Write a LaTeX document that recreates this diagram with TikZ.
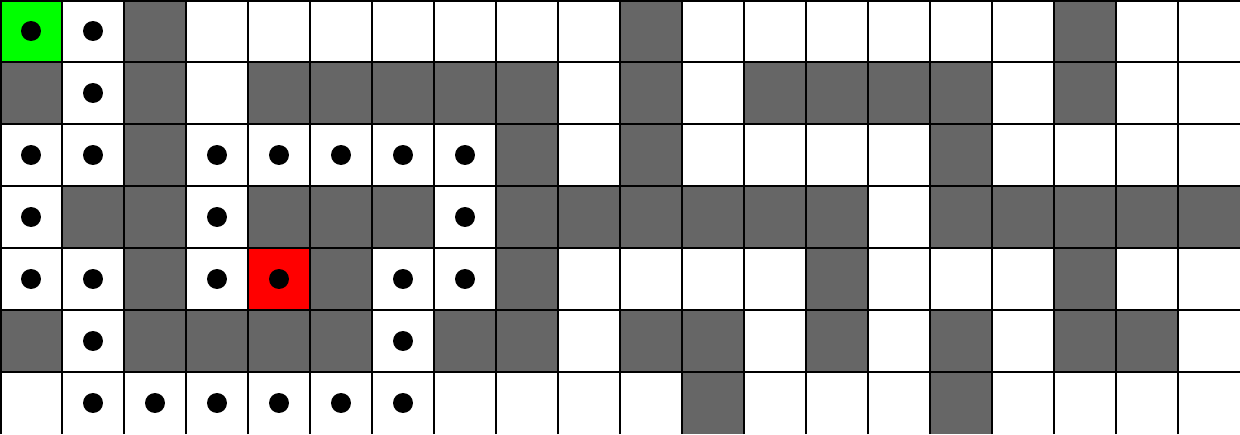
\documentclass[tikz,border=0pt]{standalone}
\usepackage{xcolor}
\definecolor{mzwall}{HTML}{666666}
\definecolor{mzstart}{HTML}{00FF00}
\definecolor{mzgoal}{HTML}{FF0000}
\usetikzlibrary{calc}
\tikzset{
  mzwall/.style={fill=mzwall},
  mzgrid/.style={draw=black,line width=0.8pt},
  mzdot/.style={fill=black},
}
\begin{document}
\begin{tikzpicture}[x=1cm,y=1cm]
\useasboundingbox (0,0) rectangle (20,7);
 % maze cells, (column,row) counted from the top left
\foreach \c/\r in {2/0,10/0,17/0,
  0/1,2/1,4/1,5/1,6/1,7/1,8/1,10/1,12/1,13/1,14/1,15/1,17/1,
  2/2,8/2,10/2,15/2,
  1/3,2/3,4/3,5/3,6/3,8/3,9/3,10/3,11/3,12/3,13/3,15/3,16/3,17/3,18/3,19/3,
  2/4,5/4,8/4,13/4,17/4,
  0/5,2/5,3/5,4/5,5/5,7/5,8/5,10/5,11/5,13/5,15/5,17/5,18/5,
  11/6,15/6}
  \fill[mzwall] (\c,6-\r) rectangle ++(1,1);
\fill[mzstart] (0,6) rectangle ++(1,1);
\fill[mzgoal] (4,2) rectangle ++(1,1);
 % grid lines
\foreach \c in {0,...,19}
  \draw[mzgrid] (\c,0) -- (\c,7);
\foreach \r in {0,...,6}
  \draw[mzgrid] (0,7-\r) -- (20,7-\r);
\draw[mzgrid] (0.015,0) -- (0.015,7);
\draw[mzgrid] (0,6.985) -- (20,6.985);
 % path
\foreach \c/\r in {0/0,1/0,1/1,0/2,1/2,3/2,4/2,5/2,6/2,7/2,
  0/3,3/3,7/3,0/4,1/4,3/4,4/4,6/4,7/4,1/5,6/5,
  1/6,2/6,3/6,4/6,5/6,6/6}
  \fill[mzdot] (\c+0.5,6.5-\r) circle (0.161);
\end{tikzpicture}
\end{document}
